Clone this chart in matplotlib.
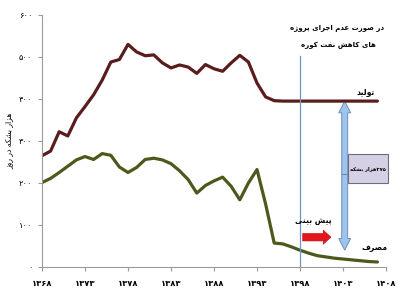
import matplotlib
matplotlib.use("Agg")
from matplotlib import pyplot as plt
from matplotlib.patches import FancyArrow, Rectangle

years = list(range(1368, 1408))
production = [265, 276, 322, 312, 355, 382, 410, 445, 488, 494,
              530, 512, 503, 505, 486, 474, 481, 476, 461, 482,
              472, 466, 486, 504, 488, 438, 405, 396, 395, 395,
              395, 395, 395, 395, 395, 395, 395, 395, 395, 395]
consumption = [201, 211, 225, 240, 255, 263, 256, 270, 266, 238,
               225, 237, 256, 259, 255, 246, 229, 208, 176, 194,
               205, 214, 192, 160, 200, 232, 150, 57, 55, 48,
               40, 33, 27, 24, 21, 19, 17, 15, 13, 12]
xticks = [1368, 1373, 1378, 1383, 1388, 1393, 1398, 1403, 1408]
yticks = [0, 100, 200, 300, 400, 500, 600]

# matplotlib has no arabic shaping, so pick presentation forms by hand
FORMS = {
    'ا': ('\ufe8d', '\ufe8e', None, None), 'ب': ('\ufe8f', '\ufe90', '\ufe91', '\ufe92'),
    'پ': ('\ufb56', '\ufb57', '\ufb58', '\ufb59'), 'ت': ('\ufe95', '\ufe96', '\ufe97', '\ufe98'),
    'ج': ('\ufe9d', '\ufe9e', '\ufe9f', '\ufea0'), 'د': ('\ufea9', '\ufeaa', None, None),
    'ر': ('\ufead', '\ufeae', None, None), 'ز': ('\ufeaf', '\ufeb0', None, None),
    'ژ': ('\ufb8a', '\ufb8b', None, None), 'ش': ('\ufeb5', '\ufeb6', '\ufeb7', '\ufeb8'),
    'ص': ('\ufeb9', '\ufeba', '\ufebb', '\ufebc'), 'ع': ('\ufec9', '\ufeca', '\ufecb', '\ufecc'),
    'ف': ('\ufed1', '\ufed2', '\ufed3', '\ufed4'), 'ک': ('\ufb8e', '\ufb8f', '\ufb90', '\ufb91'),
    'ل': ('\ufedd', '\ufede', '\ufedf', '\ufee0'), 'م': ('\ufee1', '\ufee2', '\ufee3', '\ufee4'),
    'ن': ('\ufee5', '\ufee6', '\ufee7', '\ufee8'), 'و': ('\ufeed', '\ufeee', None, None),
    'ه': ('\ufee9', '\ufeea', '\ufeeb', '\ufeec'), 'ی': ('\ufbfc', '\ufbfd', '\ufbfe', '\ufbff'),
}
DIGITS = '۰۱۲۳۴۵۶۷۸۹'


def fa(text):
    out = ''
    for i, c in enumerate(text):
        if c not in FORMS:
            out += c
            continue
        prev = text[i - 1] if i > 0 else ''
        nxt = text[i + 1] if i + 1 < len(text) else ''
        jp = prev in FORMS and FORMS[prev][2] is not None
        jn = nxt in FORMS and FORMS[c][2] is not None
        iso, fin, ini, med = FORMS[c]
        out += med if (jp and jn) else fin if jp else ini if jn else iso
    # visual order: reverse, keep digit runs left to right
    runs, cur = [], ''
    for c in out:
        if cur and (c in DIGITS) != (cur[-1] in DIGITS):
            runs.append(cur)
            cur = ''
        cur += c
    runs.append(cur)
    return ''.join(r if r[0] in DIGITS else r[::-1] for r in reversed(runs))


def pdig(n):
    return ''.join(DIGITS[int(d)] for d in str(n))


plt.rcParams['font.family'] = 'DejaVu Sans'
fig = plt.figure(figsize=(4, 3), dpi=100)
ax = fig.add_axes([0.105, 0.11, 0.86, 0.84])

ax.plot(years, production, color='#5a1c1c', lw=2.3, solid_capstyle='round',
        solid_joinstyle='round')
ax.plot(years, consumption, color='#4b5a1c', lw=2.3, solid_capstyle='round',
        solid_joinstyle='round')

ax.plot([1398, 1398], [0, 502], color='#6f97c4', lw=0.9)

ax.add_patch(FancyArrow(1403.2, 220, 0, 175, width=0.7, head_width=1.4,
                        head_length=28, length_includes_head=True,
                        facecolor='#9fc3ea', edgecolor='#5f86b8', lw=0.6))
ax.add_patch(FancyArrow(1403.2, 220, 0, -180, width=0.7, head_width=1.4,
                        head_length=28, length_includes_head=True,
                        facecolor='#9fc3ea', edgecolor='#5f86b8', lw=0.6))
ax.add_patch(FancyArrow(1398.3, 71, 3.3, 0, width=18, head_width=34,
                        head_length=0.9, length_includes_head=True,
                        facecolor='#e3161c', edgecolor='#c01015', lw=0.4))

ax.add_patch(Rectangle((1403.6, 200), 4.6, 70, facecolor='#d6d0e6',
                       edgecolor='#6e6e7a', lw=0.8, clip_on=False, zorder=3))
ax.text(1405.95, 235, fa('۳۷۵هزار بشکه'), ha='center', va='center',
        fontsize=3.7, fontweight='bold', zorder=4)
ax.text(1402.3, 570, fa('در صورت عدم اجرای پروژه'), ha='center', va='center',
        fontsize=5, fontweight='bold')
ax.text(1402.5, 528, fa('های کاهش نفت کوره'), ha='center', va='center',
        fontsize=5, fontweight='bold')
ax.text(1405.6, 418, fa('تولید'), ha='center', va='center', fontsize=5.5, fontweight='bold')
ax.text(1406.7, 47, fa('مصرف'), ha='center', va='center', fontsize=5.5, fontweight='bold')
ax.text(1399.6, 111, fa('پیش بینی'), ha='center', va='center', fontsize=5.5, fontweight='bold')

ax.set_xlim(1368, 1408)
ax.set_ylim(0, 600)
ax.set_xticks(xticks)
ax.set_xticklabels([pdig(v) for v in xticks], fontsize=6, fontweight='bold')
ax.set_yticks(yticks)
ax.set_yticklabels([pdig(v) for v in yticks], fontsize=6)
ax.set_ylabel(fa('هزار بشکه در روز'), fontsize=5.5, labelpad=4)
ax.tick_params(axis='both', length=3, color='#9a9a9a')
ax.tick_params(axis='x', pad=6)
ax.tick_params(axis='y', pad=4)
for s in ['top', 'right']:
    ax.spines[s].set_visible(False)
for s in ['left', 'bottom']:
    ax.spines[s].set_color('#9a9a9a')

fig.savefig('out.png', dpi=100)
